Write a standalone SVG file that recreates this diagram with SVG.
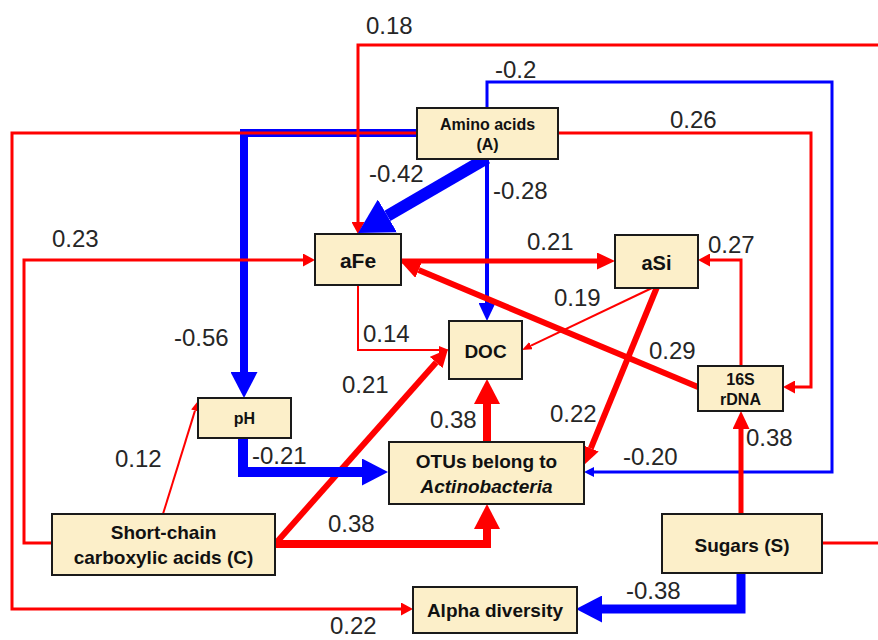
<svg xmlns="http://www.w3.org/2000/svg" width="878" height="640" viewBox="0 0 878 640">
<defs>
<style>
.bg{fill:#ffffff}
.box{fill:#fcefc9;stroke:#1a1a1a;stroke-width:2}
.nt{font-family:"Liberation Sans",Arial,sans-serif;font-weight:bold;fill:#111;text-anchor:middle}
.lb{font-family:"Liberation Sans",Arial,sans-serif;font-size:24px;fill:#262626}
.r{fill:none;stroke:#ff0000;stroke-linejoin:miter}
.b{fill:none;stroke:#0000ff;stroke-linejoin:miter}
</style>
<marker id="r1" viewBox="0 -4 10 8" refX="0" refY="0" markerWidth="10" markerHeight="8" markerUnits="userSpaceOnUse" orient="auto"><path d="M0,-4 L10,0 L0,4 z" fill="#ff0000"/></marker>
<marker id="r2" viewBox="0 -6.5 12 13" refX="0" refY="0" markerWidth="12" markerHeight="13" markerUnits="userSpaceOnUse" orient="auto"><path d="M0,-6.5 L12,0 L0,6.5 z" fill="#ff0000"/></marker>
<marker id="r3" viewBox="0 -8.5 18 17" refX="0" refY="0" markerWidth="18" markerHeight="17" markerUnits="userSpaceOnUse" orient="auto"><path d="M0,-8.5 L18,0 L0,8.5 z" fill="#ff0000"/></marker>
<marker id="r4" viewBox="0 -13 25 26" refX="0" refY="0" markerWidth="25" markerHeight="26" markerUnits="userSpaceOnUse" orient="auto"><path d="M0,-13 L25,0 L0,13 z" fill="#ff0000"/></marker>
<marker id="b1" viewBox="0 -5 10 10" refX="0" refY="0" markerWidth="10" markerHeight="10" markerUnits="userSpaceOnUse" orient="auto"><path d="M0,-5 L10,0 L0,5 z" fill="#0000ff"/></marker>
<marker id="b2" viewBox="0 -8.5 18 17" refX="0" refY="0" markerWidth="18" markerHeight="17" markerUnits="userSpaceOnUse" orient="auto"><path d="M0,-8.5 L18,0 L0,8.5 z" fill="#0000ff"/></marker>
<marker id="b3" viewBox="0 -13.5 26 27" refX="0" refY="0" markerWidth="26" markerHeight="27" markerUnits="userSpaceOnUse" orient="auto"><path d="M0,-13.5 L26,0 L0,13.5 z" fill="#0000ff"/></marker>
<marker id="b4" viewBox="0 -19 34 38" refX="0" refY="0" markerWidth="34" markerHeight="38" markerUnits="userSpaceOnUse" orient="auto"><path d="M0,-19 L34,0 L0,19 z" fill="#0000ff"/></marker>
</defs>
<rect class="bg" x="0" y="0" width="878" height="640"/>

<g id="connectors">
  <path class="b" stroke-width="8" d="M417,133 H244 V372" marker-end="url(#b3)"/>
  <path class="r" stroke-width="3" d="M417,133 H12 V609 H401" marker-end="url(#r2)"/>
  <path class="r" stroke-width="3" d="M878,45 H358 V222" marker-end="url(#r2)"/>
  <path class="b" stroke-width="3" d="M487,108 V82 H832 V472 H594" marker-end="url(#b1)"/>
  <path class="r" stroke-width="3" d="M558,133 H811 V387 H795" marker-end="url(#r2)"/>
  <path class="b" stroke-width="12" d="M487,158 L387.4,215.9" marker-end="url(#b4)"/>
  <path class="b" stroke-width="4" d="M487,160 V303" marker-end="url(#b2)"/>
  <path class="r" stroke-width="3" d="M52,543 H24 V260 H303" marker-end="url(#r2)"/>
  <path class="r" stroke-width="5" d="M401,261 H597" marker-end="url(#r3)"/>
  <path class="r" stroke-width="2" d="M358,285 V350 H439" marker-end="url(#r1)"/>
  <path class="r" stroke-width="2" d="M652,288 L531,345.7" marker-end="url(#r1)"/>
  <path class="r" stroke-width="3" d="M741,366 V260 H710" marker-end="url(#r2)"/>
  <path class="r" stroke-width="6" d="M698,387 L418.6,270" marker-end="url(#r3)"/>
  <path class="r" stroke-width="6" d="M657,287 L590.8,448.3" marker-end="url(#r3)"/>
  <path class="r" stroke-width="8" d="M487,442 V404" marker-end="url(#r4)"/>
  <path class="r" stroke-width="6" d="M276,543 L436.1,362.5" marker-end="url(#r3)"/>
  <path class="r" stroke-width="8" d="M275,544 H487 V529" marker-end="url(#r4)"/>
  <path class="r" stroke-width="2" d="M163,514 L195,410.6" marker-end="url(#r1)"/>
  <path class="b" stroke-width="10" d="M243,438 V472 H362" marker-end="url(#b3)"/>
  <path class="r" stroke-width="5" d="M741,514 V429" marker-end="url(#r3)"/>
  <path class="b" stroke-width="9" d="M741,573 V609 H602" marker-end="url(#b3)"/>
  <path class="r" stroke-width="3" d="M822,543 H878"/>
</g>

<g id="labels">
  <text class="lb" x="366" y="34">0.18</text>
  <text class="lb" x="495" y="78">-0.2</text>
  <text class="lb" x="670" y="128">0.26</text>
  <text class="lb" x="369" y="182">-0.42</text>
  <text class="lb" x="493" y="199">-0.28</text>
  <text class="lb" x="52" y="247">0.23</text>
  <text class="lb" x="527" y="250">0.21</text>
  <text class="lb" x="708" y="253">0.27</text>
  <text class="lb" x="554" y="306">0.19</text>
  <text class="lb" x="174" y="346">-0.56</text>
  <text class="lb" x="363" y="342">0.14</text>
  <text class="lb" x="649" y="359">0.29</text>
  <text class="lb" x="342" y="393">0.21</text>
  <text class="lb" x="430" y="428">0.38</text>
  <text class="lb" x="550" y="422">0.22</text>
  <text class="lb" x="746" y="446">0.38</text>
  <text class="lb" x="115" y="467">0.12</text>
  <text class="lb" x="252" y="464">-0.21</text>
  <text class="lb" x="623" y="465">-0.20</text>
  <text class="lb" x="328" y="532">0.38</text>
  <text class="lb" x="626" y="599">-0.38</text>
  <text class="lb" x="330" y="634">0.22</text>
</g>

<g id="node-amino">
  <rect class="box" x="417" y="108" width="141" height="51"/>
  <text class="nt" x="487.5" y="130" font-size="16">Amino acids</text>
  <text class="nt" x="487.5" y="150" font-size="16">(A)</text>
</g>
<g id="node-afe">
  <rect class="box" x="315" y="234" width="86" height="51"/>
  <text class="nt" x="358" y="268" font-size="21">aFe</text>
</g>
<g id="node-asi">
  <rect class="box" x="615" y="235" width="83" height="53"/>
  <text class="nt" x="656.5" y="270" font-size="20">aSi</text>
</g>
<g id="node-doc">
  <rect class="box" x="449" y="321" width="73" height="58"/>
  <text class="nt" x="485.5" y="358" font-size="19">DOC</text>
</g>
<g id="node-16s">
  <rect class="box" x="698" y="366" width="85" height="45"/>
  <text class="nt" x="740.5" y="385" font-size="16">16S</text>
  <text class="nt" x="740.5" y="405" font-size="16">rDNA</text>
</g>
<g id="node-ph">
  <rect class="box" x="198" y="398" width="93" height="40"/>
  <text class="nt" x="244.5" y="424" font-size="16">pH</text>
</g>
<g id="node-otus">
  <rect class="box" x="389" y="442" width="195" height="62"/>
  <text class="nt" x="486.5" y="468" font-size="19">OTUs belong to</text>
  <text class="nt" x="486.5" y="493" font-size="19" font-style="italic">Actinobacteria</text>
</g>
<g id="node-shortchain">
  <rect class="box" x="52" y="514" width="223" height="61"/>
  <text class="nt" x="163.5" y="539" font-size="19">Short-chain</text>
  <text class="nt" x="163.5" y="564" font-size="19">carboxylic acids (C)</text>
</g>
<g id="node-alpha">
  <rect class="box" x="413" y="587" width="164" height="46"/>
  <text class="nt" x="495" y="617" font-size="19">Alpha diversity</text>
</g>
<g id="node-sugars">
  <rect class="box" x="662" y="514" width="160" height="59"/>
  <text class="nt" x="742" y="552" font-size="19">Sugars (S)</text>
</g>
</svg>
